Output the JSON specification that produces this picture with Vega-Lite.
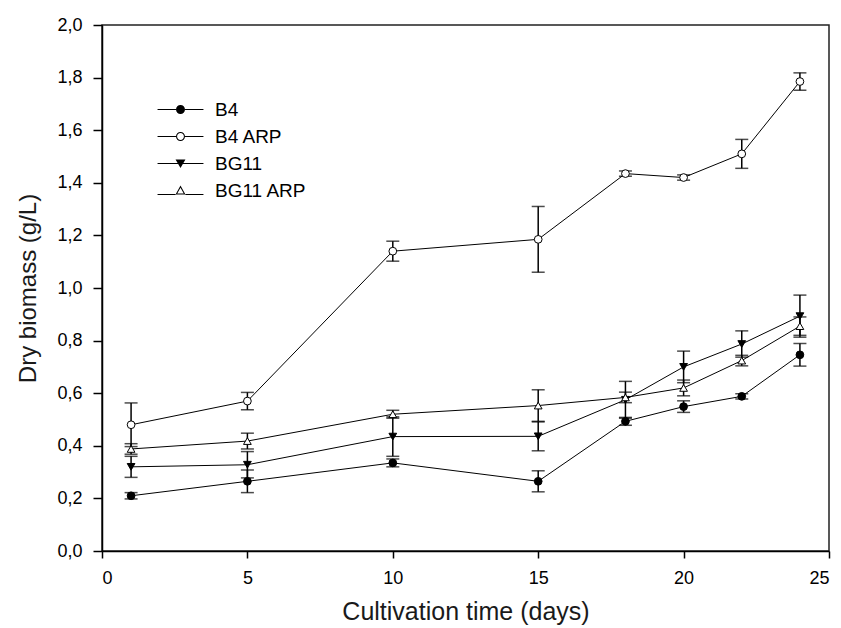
{
  "$schema": "https://vega.github.io/schema/vega-lite/v6.json",
  "width": 727,
  "height": 526,
  "autosize": {"type": "none"},
  "padding": {"left": 102, "top": 25, "right": 12, "bottom": 77},
  "background": "white",
  "data": {
    "values": [
      {"series": "B4", "day": 1, "mean": 0.21, "sd": 0.012},
      {"series": "B4", "day": 5, "mean": 0.265, "sd": 0.043},
      {"series": "B4", "day": 10, "mean": 0.335, "sd": 0.015},
      {"series": "B4", "day": 15, "mean": 0.265, "sd": 0.04},
      {"series": "B4", "day": 18, "mean": 0.493, "sd": 0.015},
      {"series": "B4", "day": 20, "mean": 0.549, "sd": 0.022},
      {"series": "B4", "day": 22, "mean": 0.588, "sd": 0.01},
      {"series": "B4", "day": 24, "mean": 0.746, "sd": 0.043},
      {"series": "B4 ARP", "day": 1, "mean": 0.48, "sd": 0.083},
      {"series": "B4 ARP", "day": 5, "mean": 0.57, "sd": 0.033},
      {"series": "B4 ARP", "day": 10, "mean": 1.14, "sd": 0.038},
      {"series": "B4 ARP", "day": 15, "mean": 1.185, "sd": 0.125},
      {"series": "B4 ARP", "day": 18, "mean": 1.435, "sd": 0.01},
      {"series": "B4 ARP", "day": 20, "mean": 1.42, "sd": 0.01},
      {"series": "B4 ARP", "day": 22, "mean": 1.51, "sd": 0.055},
      {"series": "B4 ARP", "day": 24, "mean": 1.785, "sd": 0.033},
      {"series": "BG11", "day": 1, "mean": 0.32, "sd": 0.04},
      {"series": "BG11", "day": 5, "mean": 0.328, "sd": 0.05},
      {"series": "BG11", "day": 10, "mean": 0.435, "sd": 0.075},
      {"series": "BG11", "day": 15, "mean": 0.436, "sd": 0.055},
      {"series": "BG11", "day": 18, "mean": 0.575, "sd": 0.07},
      {"series": "BG11", "day": 20, "mean": 0.7, "sd": 0.06},
      {"series": "BG11", "day": 22, "mean": 0.787, "sd": 0.05},
      {"series": "BG11", "day": 24, "mean": 0.893, "sd": 0.08},
      {"series": "BG11 ARP", "day": 1, "mean": 0.388, "sd": 0.02},
      {"series": "BG11 ARP", "day": 5, "mean": 0.418, "sd": 0.03},
      {"series": "BG11 ARP", "day": 10, "mean": 0.52, "sd": 0.015},
      {"series": "BG11 ARP", "day": 15, "mean": 0.553, "sd": 0.06},
      {"series": "BG11 ARP", "day": 18, "mean": 0.584, "sd": 0.02},
      {"series": "BG11 ARP", "day": 20, "mean": 0.62, "sd": 0.03},
      {"series": "BG11 ARP", "day": 22, "mean": 0.724, "sd": 0.02},
      {"series": "BG11 ARP", "day": 24, "mean": 0.855, "sd": 0.035}
    ]
  },
  "encoding": {
    "x": {
      "field": "day", "type": "quantitative",
      "scale": {"domain": [0, 25], "nice": false, "zero": false},
      "axis": {
        "title": "Cultivation time (days)",
        "values": [0, 5, 10, 15, 20, 25],
        "format": "d",
        "tickSize": 7,
        "labelPadding": 11,
        "titlePadding": 12,
        "titleFontSize": 25
      }
    },
    "y": {
      "field": "mean", "type": "quantitative",
      "scale": {"domain": [0, 2], "nice": false},
      "axis": {
        "title": "Dry biomass (g/L)",
        "values": [0, 0.2, 0.4, 0.6, 0.8, 1.0, 1.2, 1.4, 1.6, 1.8, 2.0],
        "labelExpr": "replace(format(datum.value, '.1f'), '.', ',')",
        "tickSize": 9,
        "labelPadding": 11,
        "titlePadding": 16
      }
    }
  },
  "layer": [
    {
      "mark": {"type": "line", "color": "black", "strokeWidth": 1},
      "encoding": {"detail": {"field": "series", "type": "nominal"}}
    },
    {
      "mark": {
        "type": "errorbar",
        "color": "black",
        "ticks": {"size": 13, "thickness": 1.5},
        "rule": {"strokeWidth": 1.5}
      },
      "encoding": {
        "yError": {"field": "sd"},
        "detail": {"field": "series", "type": "nominal"}
      }
    },
    {
      "mark": {"type": "point", "filled": true, "stroke": "black", "strokeWidth": 1, "size": 60, "opacity": 1},
      "encoding": {
        "shape": {
          "field": "series", "type": "nominal",
          "scale": {
            "domain": ["B4", "B4 ARP", "BG11", "BG11 ARP"],
            "range": ["circle", "circle", "triangle-down", "triangle-up"]
          },
          "legend": null
        },
        "fill": {
          "field": "series", "type": "nominal",
          "scale": {
            "domain": ["B4", "B4 ARP", "BG11", "BG11 ARP"],
            "range": ["black", "white", "black", "white"]
          },
          "legend": null
        }
      }
    },
    {
      "mark": {"type": "point", "filled": true, "color": "black", "strokeWidth": 0, "size": 81, "opacity": 0},
      "encoding": {
        "shape": {
          "field": "series", "type": "nominal",
          "scale": {
            "domain": ["B4", "B4 ARP", "BG11", "BG11 ARP"],
            "range": [
              "M-1,0A1,1 0 1,1 1,0A1,1 0 1,1 -1,0ZM-5.1,-0.12H-1V0.12H-5.1ZM1,-0.12H5.1V0.12H1Z",
              "M-1,0A1,1 0 1,1 1,0A1,1 0 1,1 -1,0ZM-0.76,0A0.76,0.76 0 1,0 0.76,0A0.76,0.76 0 1,0 -0.76,0ZM-5.1,-0.12H-1V0.12H-5.1ZM1,-0.12H5.1V0.12H1Z",
              "M-1.1,-0.9L1.1,-0.9L0,1ZM-5.1,-0.12H-0.5V0.12H-5.1ZM0.5,-0.12H5.1V0.12H0.5Z",
              "M-1.1,0.9L1.1,0.9L0,-1.1ZM-0.72,0.68L0,-0.62L0.72,0.68ZM-5.1,0.78H-1.1V1.02H-5.1ZM1.1,0.78H5.1V1.02H1.1Z"
            ]
          },
          "legend": {
            "title": null,
            "orient": "none",
            "legendX": 69,
            "legendY": 75,
            "padding": 0,
            "symbolSize": 81,
            "symbolStrokeWidth": 0,
            "symbolOpacity": 1,
            "symbolFillColor": "black",
            "labelOffset": 25,
            "rowPadding": 7,
            "labelFont": "Liberation Sans",
            "labelFontSize": 19,
            "labelColor": "black"
          }
        }
      }
    }
  ],
  "resolve": {"scale": {"shape": "independent"}, "legend": {"shape": "independent"}},
  "config": {
    "view": {"stroke": "#222", "strokeWidth": 1.5},
    "axis": {
      "grid": false,
      "domainColor": "black",
      "domainWidth": 1.5,
      "tickColor": "black",
      "tickWidth": 1.5,
      "labelFont": "Liberation Sans",
      "labelFontSize": 18,
      "labelColor": "black",
      "titleFont": "Liberation Sans",
      "titleFontSize": 24,
      "titleFontWeight": "normal",
      "titleColor": "#1a1a1a"
    }
  }
}
